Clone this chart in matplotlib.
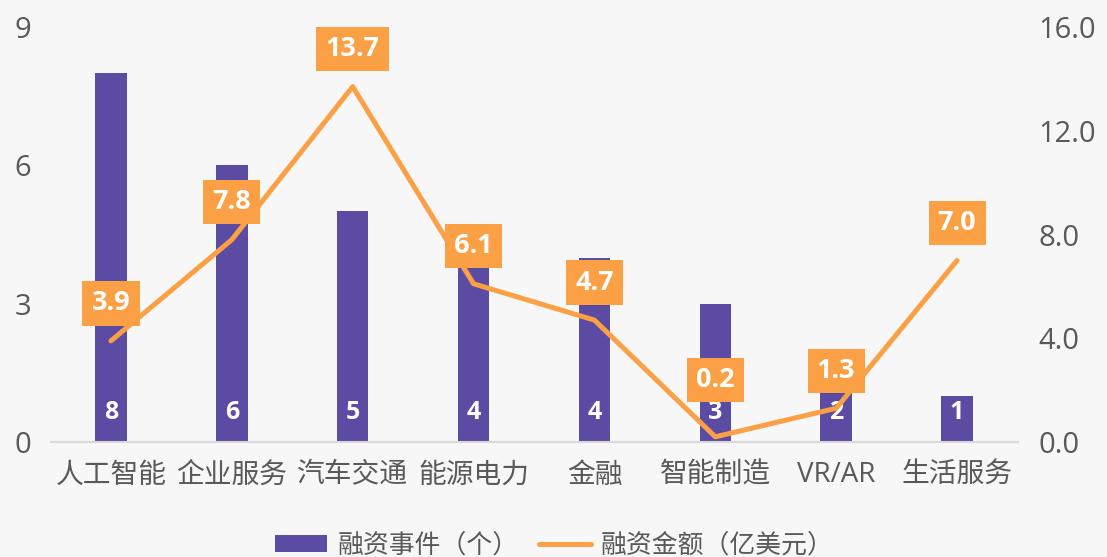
import matplotlib
matplotlib.use("Agg")
import matplotlib.pyplot as plt
import numpy as np

plt.rcParams['font.family'] = ['Open Sans', 'Noto Sans CJK SC', 'DejaVu Sans']

categories = ['人工智能', '企业服务', '汽车交通', '能源电力', '金融', '智能制造', 'VR/AR', '生活服务']
events = [8, 6, 5, 4, 4, 3, 2, 1]
amounts = [3.9, 7.8, 13.7, 6.1, 4.7, 0.2, 1.3, 7.0]
left_ticks = [0, 3, 6, 9]
right_ticks = [0.0, 4.0, 8.0, 12.0, 16.0]

bg = '#F7F7F7'
purple = '#5B4BA3'
orange = '#FBA045'
txt = '#595959'

fig = plt.figure(figsize=(11.07, 5.57), dpi=100, facecolor=bg)
ax = fig.add_axes([50.5/1107, 1-442/557, 967/1107, 415/557])
ax.set_facecolor(bg)
ax2 = ax.twinx()

x = np.arange(len(categories))
bars = ax.bar(x, events, width=0.26, color=purple, zorder=2, label='融资事件（个）')
ax.set_xlim(-0.5, len(categories)-0.5)
ax.set_ylim(0, 9)
ax.set_yticks(left_ticks)
ax.set_yticklabels([str(t) for t in left_ticks])
ax.set_xticks(x)
ax.set_xticklabels(categories)

line, = ax2.plot(x, amounts, color=orange, lw=3.6, zorder=3, label='融资金额（亿美元）',
                 solid_joinstyle='round', solid_capstyle='round')
ax2.set_ylim(0, 16)
ax2.set_yticks(right_ticks)
ax2.set_yticklabels([f'{t:.1f}' for t in right_ticks])

for a in (ax, ax2):
    for s in a.spines.values():
        s.set_visible(False)
    a.tick_params(length=0, colors=txt, labelsize=21)
ax.spines['bottom'].set_visible(True)
ax.spines['bottom'].set_color('#D9D9D9')
ax.spines['bottom'].set_linewidth(1.5)
ax.tick_params(axis='y', pad=14)
ax.tick_params(axis='x', pad=14, labelsize=20)
ax2.tick_params(axis='y', pad=15)

for xi, v in zip(x, events):
    ax.annotate(str(v), (xi, 0), xytext=(0, 21), textcoords='offset points',
                ha='center', va='center', color='white', fontsize=18, fontweight='bold', zorder=4)

for xi, v in zip(x, amounts):
    off = 27 if v >= 1 else 41
    ax2.annotate(f'{v:.1f}', (xi, v), xytext=(0, off), textcoords='offset points',
                 ha='center', va='center', color='white', fontsize=19.5, fontweight='bold', zorder=5,
                 bbox=dict(boxstyle='square,pad=0.34', fc=orange, ec='none'))

fig.legend(handles=[bars, line], loc='center', bbox_to_anchor=(0.501, 0.02), ncol=2,
           frameon=False, fontsize=18.6, labelcolor=txt, handlelength=2.0, handleheight=0.63,
           columnspacing=0.8, handletextpad=0.4)

fig.savefig('out.png', dpi=100, facecolor=bg)
